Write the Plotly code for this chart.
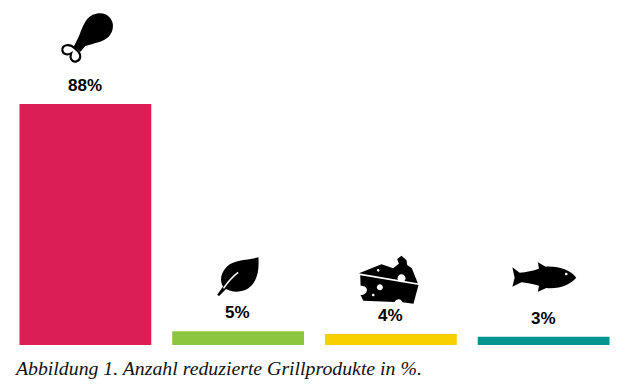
import plotly.graph_objects as go

categories = ["Fleisch", "Vegetarisch", "Käse", "Fisch"]
values = [88, 5, 4, 3]
labels = ["88%", "5%", "4%", "3%"]
colors = ["#DB1F55", "#8CC63F", "#F8D000", "#00968F"]
caption = "Abbildung 1. Anzahl reduzierte Grillprodukte in %."

W, H = 623, 388
L, R, T, B = 8.5, 620.5, 5, 345


def px(x, y):
    return (x - L) / (R - L), (B - y) / (B - T)


def icon_path(segments, ox, oy, k=1 / 3):
    """segments: list of (cmd, [x, y, x, y...]) in icon-local coordinates"""
    out = []
    for cmd, pts in segments:
        if cmd == "Z":
            out.append("Z")
            continue
        conv = []
        for i in range(0, len(pts), 2):
            a, b = px(ox + pts[i] * k, oy + pts[i + 1] * k)
            conv.append(f"{a:.5f},{b:.5f}")
        if cmd == "L":
            out.extend("L" + c for c in conv)
        else:
            out.append(cmd + " ".join(conv))
    return " ".join(out)


def circle(cx, cy, r):
    c = 0.5523 * r
    return [
        ("M", [cx + r, cy]),
        ("C", [cx + r, cy + c, cx + c, cy + r, cx, cy + r]),
        ("C", [cx - c, cy + r, cx - r, cy + c, cx - r, cy]),
        ("C", [cx - r, cy - c, cx - c, cy - r, cx, cy - r]),
        ("C", [cx + c, cy - r, cx + r, cy - c, cx + r, cy]),
        ("Z", []),
    ]


def poly(points):
    segs = [("M", list(points[0]))]
    segs += [("L", list(p)) for p in points[1:]]
    segs.append(("Z", []))
    return segs


shapes = []


def add(segments, ox, oy, fill="black"):
    shapes.append(dict(type="path", xref="paper", yref="paper",
                       path=icon_path(segments, ox, oy), fillcolor=fill,
                       line=dict(width=0), layer="above"))


def stroke(segments, ox, oy, width, color, fill=None):
    shape = dict(type="path", xref="paper", yref="paper",
                 path=icon_path(segments, ox, oy),
                 line=dict(width=width, color=color), layer="above")
    if fill:
        shape["fillcolor"] = fill
    shapes.append(shape)


# chicken drumstick
ox, oy = 40, 0
add([("M", [140, 58]),
     ("C", [155, 38, 190, 33, 206, 50]),
     ("C", [224, 66, 220, 94, 205, 110]),
     ("C", [188, 126, 165, 128, 135, 138]),
     ("L", [120, 155, 100, 140]),
     ("L", [116, 108]),
     ("C", [124, 88, 128, 75, 140, 58]),
     ("Z", [])], ox, oy)
stroke([("M", [103, 145]),
        ("C", [90, 130, 62, 133, 66, 152]),
        ("C", [68, 166, 85, 164, 92, 160]),
        ("C", [88, 172, 92, 188, 108, 184]),
        ("C", [122, 180, 122, 165, 115, 156]),
        ("Z", [])], ox, oy, 2.2, "black", "white")

# leaf
ox, oy = 200, 245
add([("M", [175, 37]),
     ("C", [140, 46, 100, 44, 80, 65]),
     ("C", [60, 85, 57, 112, 72, 128]),
     ("C", [92, 142, 122, 145, 145, 130]),
     ("C", [170, 112, 178, 80, 175, 37]),
     ("Z", [])], ox, oy)
add(poly([(70, 122), (80, 130), (57, 153), (51, 150)]), ox, oy)
stroke([("M", [70, 130]), ("C", [82, 112, 96, 96, 114, 82])], ox, oy, 1.5, "white")

# cheese
add(poly([(477, 85), (545, 58), (580, 70), (597, 56), (592, 42), (605, 32),
          (620, 46), (622, 60), (636, 70), (654, 115)]), ox, oy)
add([("M", [481, 91]), ("L", [656, 120]), ("L", [641, 176]), ("L", [608, 172]),
     ("C", [604, 160, 590, 160, 584, 171]), ("L", [490, 167]), ("L", [482, 150]),
     ("C", [505, 150, 510, 122, 482, 122]), ("Z", [])], ox, oy)
for cx, cy, r in [(535, 76, 4), (605, 100, 12), (540, 127, 9), (520, 150, 4)]:
    add(circle(cx, cy, r), ox, oy, "white")

# fish
ox, oy = 470, 250
add([("M", [320, 83]),
     ("C", [305, 62, 270, 48, 228, 50]),
     ("L", [205, 37, 208, 56]),
     ("C", [190, 63, 170, 66, 150, 68]),
     ("L", [128, 52, 135, 83, 128, 110, 155, 97]),
     ("C", [170, 99, 190, 102, 208, 107]),
     ("L", [205, 125, 230, 114]),
     ("C", [270, 118, 305, 102, 320, 83]),
     ("Z", [])], ox, oy)
add(circle(290, 72, 4), ox, oy, "white")

fig = go.Figure(go.Bar(x=categories, y=values, marker=dict(color=colors, line=dict(width=0)),
                       width=132 / 153, hoverinfo="skip"))

annotations = [dict(x=c, y=v, text=f"<b>{t}</b>", showarrow=False, xanchor="center", yanchor="middle",
                    yshift=18.7, xshift=-0.5, font=dict(family="Liberation Sans", size=17, color="black"))
               for c, v, t in zip(categories, values, labels)]
annotations.append(dict(xref="paper", yref="paper", x=px(12, 0)[0], y=px(0, 368)[1], text=f"<i>{caption}</i>",
                        showarrow=False, xanchor="left", yanchor="middle",
                        font=dict(family="Liberation Serif", size=19.8, color="#111111")))

fig.update_layout(
    width=W, height=H, showlegend=False, paper_bgcolor="white", plot_bgcolor="white",
    margin=dict(l=L, r=W - R, t=T, b=H - B, autoexpand=False),
    xaxis=dict(visible=False, type="category", categoryorder="array", categoryarray=categories, range=[-0.5, 3.5]),
    yaxis=dict(visible=False, range=[0, (B - T) / (241 / 88)]),
    shapes=shapes, annotations=annotations,
)
fig.write_html("out.html", config=dict(displayModeBar=False),
               post_script="document.body.style.margin='0';")
